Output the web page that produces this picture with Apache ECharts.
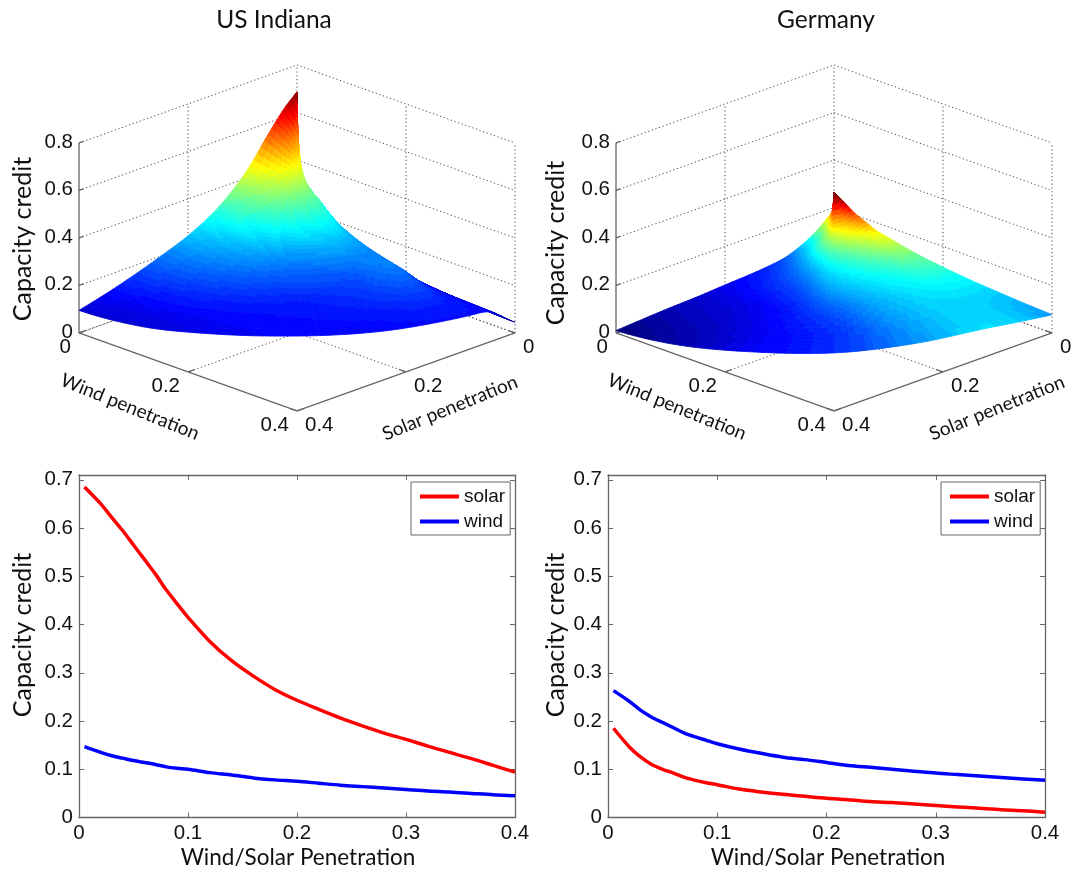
<!DOCTYPE html>
<html><head><meta charset="utf-8">
<style>html,body{margin:0;padding:0;background:#fff}#c{width:1073px;height:873px;filter:blur(0.45px)}</style>
<script src="https://cdn.jsdelivr.net/npm/echarts@6/dist/echarts.min.js"></script>
</head><body><div id="c"></div>
<script>
// ---------- 2-D line data ----------
const penetration = [0.005,0.02,0.03,0.04,0.05,0.06,0.07,0.08,0.09,0.1,0.12,0.14,0.16,0.18,0.2,0.22,0.24,0.26,0.28,0.3,0.32,0.34,0.36,0.38,0.4];
const indianaSolar = [0.685,0.65,0.622,0.595,0.565,0.535,0.505,0.472,0.443,0.415,0.365,0.325,0.293,0.265,0.243,0.224,0.206,0.19,0.175,0.162,0.148,0.135,0.122,0.108,0.094];
const indianaWind  = [0.147,0.135,0.128,0.123,0.118,0.114,0.11,0.105,0.102,0.1,0.093,0.088,0.082,0.078,0.075,0.071,0.067,0.064,0.061,0.058,0.055,0.053,0.05,0.047,0.045];
const germanySolar = [0.185,0.145,0.125,0.11,0.1,0.092,0.083,0.077,0.072,0.068,0.059,0.053,0.048,0.044,0.04,0.037,0.033,0.031,0.028,0.025,0.022,0.019,0.016,0.014,0.011];
const germanyWind  = [0.263,0.24,0.222,0.208,0.197,0.186,0.175,0.167,0.16,0.153,0.142,0.133,0.125,0.12,0.114,0.108,0.104,0.1,0.096,0.092,0.089,0.086,0.083,0.08,0.077];

// ---------- 3-D surface data: capacity credit along rays in the (wind, solar) plane ----------
const rayAngles = [0,15,30,45,60,75,82,90]; // degrees from the solar axis towards the wind axis
const rayRadii  = [0,0.02,0.04,0.06,0.08,0.1,0.15,0.2,0.25,0.3,0.35,0.4];
const indianaRay0  = [0.686,0.645,0.59,0.53,0.465,0.41,0.31,0.245,0.2,0.16,0.125,0.095];
const indianaRay15 = [0.686,0.62,0.57,0.51,0.45,0.4,0.3,0.235,0.19,0.15,0.12,0.1];
const indianaRay30 = [0.686,0.6,0.54,0.48,0.43,0.385,0.295,0.225,0.18,0.145,0.125,0.115];
const indianaRay45 = [0.686,0.56,0.49,0.446,0.4,0.36,0.28,0.21,0.17,0.14,0.13,0.123];
const indianaRay60 = [0.42,0.37,0.35,0.35,0.35,0.33,0.27,0.215,0.17,0.15,0.135,0.125];
const indianaRay75 = [0.42,0.32,0.3,0.27,0.25,0.24,0.223,0.21,0.205,0.175,0.145,0.13];
const indianaRay82 = [0.3,0.15,0.14,0.14,0.14,0.14,0.135,0.13,0.135,0.13,0.13,0.13];
const indianaRay90 = [0.3,0.14,0.125,0.115,0.105,0.1,0.085,0.075,0.065,0.058,0.05,0.045];
const germanyRay0  = [0.19,0.15,0.115,0.09,0.07,0.058,0.045,0.038,0.03,0.025,0.018,0.01];
const germanyRay15 = [0.2,0.15,0.12,0.1,0.085,0.072,0.055,0.045,0.035,0.03,0.025,0.022];
const germanyRay30 = [0.21,0.17,0.14,0.125,0.11,0.095,0.07,0.055,0.046,0.042,0.04,0.04];
const germanyRay45 = [0.265,0.21,0.175,0.15,0.133,0.118,0.096,0.08,0.065,0.056,0.052,0.052];
const germanyRay60 = [0.265,0.21,0.18,0.16,0.145,0.13,0.108,0.095,0.085,0.08,0.076,0.075];
const germanyRay75 = [0.265,0.225,0.195,0.175,0.155,0.145,0.12,0.106,0.098,0.093,0.093,0.095];
const germanyRay82 = [0.265,0.235,0.203,0.183,0.163,0.153,0.128,0.112,0.1,0.093,0.09,0.09];
const germanyRay90 = [0.265,0.235,0.205,0.185,0.165,0.155,0.13,0.113,0.1,0.091,0.083,0.077];
const indianaRays = [indianaRay0,indianaRay15,indianaRay30,indianaRay45,indianaRay60,indianaRay75,indianaRay82,indianaRay90];
const germanyRays = [germanyRay0,germanyRay15,germanyRay30,germanyRay45,germanyRay60,germanyRay75,germanyRay82,germanyRay90];
const indianaColorLimits = [0.04,0.69];
const germanyColorLimits = [0.01,0.255];

// ---------- ticks ----------
const zTicks = [0,0.2,0.4,0.6,0.8];
const planeTicks = [0,0.2,0.4];
const panelTitles = ['US Indiana','Germany'];

// ---------- view projection used for the 3-D panels ----------
const FLOOR = 0.821;
const project = (w,s,z) => [w-s, z-FLOOR*(w+s)];

const TICK_FONT = '20.5px "Liberation Sans"';
const TITLE_FONT = '"Lato"';
const GREY = '#666';
const JET_LEVELS = 64;

function jet(t){
  t = Math.max(0,Math.min(1,t));
  t = Math.min(JET_LEVELS-1,Math.floor(t*JET_LEVELS))/(JET_LEVELS-1);
  const c = v => Math.round(255*Math.max(0,Math.min(1,v)));
  return 'rgb('+c(1.5-Math.abs(4*t-3))+','+c(1.5-Math.abs(4*t-2))+','+c(1.5-Math.abs(4*t-1))+')';
}
// monotone shading of the surface between the read rays and stations
function shade(xs,ys,x){
  const n=xs.length,h=[],d=[],m=[];
  for(let i=0;i<n-1;i++){h[i]=xs[i+1]-xs[i];d[i]=(ys[i+1]-ys[i])/h[i];}
  m[0]=d[0];m[n-1]=d[n-2];
  for(let i=1;i<n-1;i++){
    if(d[i-1]*d[i]<=0)m[i]=0;
    else{const a=2*h[i]+h[i-1],b=h[i]+2*h[i-1];m[i]=(a+b)/(a/d[i-1]+b/d[i]);}
  }
  let k=0;while(k<n-2&&x>xs[k+1])k++;
  const t=(x-xs[k])/h[k],t2=t*t,t3=t2*t;
  return (2*t3-3*t2+1)*ys[k]+(t3-2*t2+t)*h[k]*m[k]+(-2*t3+3*t2)*ys[k+1]+(t3-t2)*h[k]*m[k+1];
}
function surfaceItems(rays,limits){
  const lo=limits[0],hi=limits[1];
  const rs=[],as=[];
  for(let i=0;i<rayRadii.length-1;i++){const n=Math.max(3,Math.round((rayRadii[i+1]-rayRadii[i])/0.006));for(let k=0;k<n;k++)rs.push(rayRadii[i]+(rayRadii[i+1]-rayRadii[i])*k/n);}
  rs.push(rayRadii[rayRadii.length-1]);
  for(let i=0;i<rayAngles.length-1;i++){const n=Math.max(4,Math.round((rayAngles[i+1]-rayAngles[i])/1.5));for(let k=0;k<n;k++)as.push(rayAngles[i]+(rayAngles[i+1]-rayAngles[i])*k/n);}
  as.push(rayAngles[rayAngles.length-1]);
  const mesh=as.map(a=>{
    const st=rayRadii.map((_,j)=>shade(rayAngles,rays.map(r=>r[j]),a));
    const th=a*Math.PI/180;
    return rs.map(r=>{const z=shade(rayRadii,st,r),w=r*Math.sin(th),s=r*Math.cos(th);return{p:project(w,s,z),z,d:w+s};});
  });
  const items=[];
  for(let i=0;i<as.length-1;i++)for(let j=0;j<rs.length-1;j++){
    const q=[mesh[i][j],mesh[i][j+1],mesh[i+1][j+1],mesh[i+1][j]];
    const depth=q.reduce((m,k)=>m+k.d,0)/4,z=q.reduce((m,k)=>m+k.z,0)/4;
    items.push({depth,value:[...q.flatMap(k=>k.p),(z-lo)/(hi-lo)]});
  }
  items.sort((x,y)=>x.depth-y.depth);
  return items.map(i=>i.value);
}
function renderQuad(params,api){
  const pts=[];
  for(let k=0;k<4;k++)pts.push(api.coord([api.value(k*2),api.value(k*2+1)]));
  const c=jet(api.value(8));
  return {type:'polygon',shape:{points:pts},style:{fill:c,stroke:c,lineWidth:0.8}};
}
function frameItems(){
  const seg=[];
  const add=(a,b,solid)=>{const p=project(...a),q=project(...b);seg.push([p[0],p[1],q[0],q[1],solid?1:0]);};
  const top=zTicks[zTicks.length-1], end=planeTicks[planeTicks.length-1];
  zTicks.forEach(z=>{
    add([0,end,z],[0,0,z]); add([0,0,z],[end,0,z]);
    add([0,end,z],[0,end-0.008,z],true);
  });
  planeTicks.forEach(t=>{
    if(t<end){ add([0,t,0],[0,t,top]); }
    if(t>0){ add([t,0,0],[t,0,top]); }
    if(t<end){ add([0,t,0],[end,t,0]); add([t,0,0],[t,end,0]); }
    add([t,end,0],[t,end-0.012,0],true);
    add([end,t,0],[end-0.012,t,0],true);
  });
  add([0,end,0],[0,end,top],true);
  add([0,end,0],[end,end,0],true);
  add([end,end,0],[end,0,0],true);
  return seg;
}
function renderSeg(params,api){
  const p=api.coord([api.value(0),api.value(1)]),q=api.coord([api.value(2),api.value(3)]),solid=api.value(4)===1;
  return {type:'line',shape:{x1:p[0],y1:p[1],x2:q[0],y2:q[1]},
    style:solid?{stroke:GREY,lineWidth:1.3}:{stroke:'#444',lineWidth:1,lineDash:[1.2,2.6]}};
}
function labelItems(){
  const items=[], end=planeTicks[planeTicks.length-1];
  const fmt=v=>String(v);
  zTicks.forEach(z=>{const p=project(0,end,z);items.push([p[0],p[1],fmt(z),'right',-6,-1]);});
  planeTicks.forEach(t=>{
    let p=project(t,end,0);items.push([p[0],p[1],fmt(t),'right',-8,14]);
    p=project(end,t,0);items.push([p[0],p[1],fmt(t),'left',8,14]);
  });
  return items;
}
function renderLabel(params,api){
  const p=api.coord([api.value(0),api.value(1)]);
  return {type:'text',style:{text:api.value(2),x:p[0]+api.value(4),y:p[1]+api.value(5),align:api.value(3),verticalAlign:'middle',fill:'#111',font:TICK_FONT}};
}

// ---------- layout ----------
const grids3d=[{left:79,top:65,width:436,height:346},{left:616,top:65,width:436,height:346}];
const grids2d=[{left:79,top:475,width:436,height:342.5},{left:608,top:475,width:437,height:342.5}];
const grid=[...grids3d,...grids2d];
const xAxis=[],yAxis=[],series=[];
grids3d.forEach((g,i)=>{
  xAxis.push({gridIndex:i,type:'value',min:-0.4,max:0.4,show:false});
  yAxis.push({gridIndex:i,type:'value',min:-0.657,max:0.8,show:false});
  const base={type:'custom',coordinateSystem:'cartesian2d',xAxisIndex:i,yAxisIndex:i,silent:true,animation:false,clip:false,progressive:0};
  series.push({...base,name:'frame'+i,z:1,renderItem:renderSeg,data:frameItems(),encode:{x:0,y:1}});
  series.push({...base,name:'surface'+i,z:2,renderItem:renderQuad,
    data:i===0?surfaceItems(indianaRays,indianaColorLimits):surfaceItems(germanyRays,germanyColorLimits),encode:{x:0,y:1}});
  series.push({...base,name:'labels'+i,z:3,renderItem:renderLabel,
    dimensions:[{name:'u',type:'number'},{name:'v',type:'number'},{name:'t',type:'ordinal'},{name:'a',type:'ordinal'},{name:'dx',type:'number'},{name:'dy',type:'number'}],
    data:labelItems(),encode:{x:0,y:1}});
});
const axisCommon={axisLine:{show:true,onZero:false,lineStyle:{color:GREY,width:1.3}},axisTick:{show:true,inside:true,length:5,lineStyle:{color:GREY}},splitLine:{show:false}};
[2,3].forEach(i=>{
  xAxis.push({...axisCommon,gridIndex:i,type:'value',position:'bottom',min:0,max:0.4,interval:0.1,
    axisLabel:{color:'#111',fontSize:20.5,fontFamily:'Liberation Sans',margin:5}});
  yAxis.push({...axisCommon,gridIndex:i,type:'value',position:'left',min:0,max:0.71,interval:0.1,
    axisLabel:{color:'#111',fontSize:20.5,fontFamily:'Liberation Sans',margin:6,showMaxLabel:false}});
});
[2,3].forEach(i=>{
  xAxis.push({...axisCommon,gridIndex:i,type:'value',position:'top',min:0,max:0.4,interval:0.1,axisLabel:{show:false}});
  yAxis.push({...axisCommon,gridIndex:i,type:'value',position:'right',min:0,max:0.71,interval:0.1,axisLabel:{show:false}});
});
const line=(name,color,data,i)=>({type:'line',name,xAxisIndex:i,yAxisIndex:i,showSymbol:false,symbol:'none',animation:false,silent:true,z:4,smooth:0.3,
  lineStyle:{color,width:3.5},itemStyle:{color},data:penetration.map((x,k)=>[x,data[k]])});
series.push(line('solar','#ff0000',indianaSolar,2),line('wind','#0000ff',indianaWind,2),
            line('solar','#ff0000',germanySolar,3),line('wind','#0000ff',germanyWind,3));

const legendBase={orient:'vertical',itemWidth:39,itemHeight:4,itemGap:6,padding:[5,5,4,9],borderColor:GREY,borderWidth:1,backgroundColor:'#fff',
  icon:'rect',textStyle:{fontSize:19,fontFamily:'Liberation Sans',color:'#111'},z:6,selectedMode:false,data:['solar','wind']};

const txt=(x,y,text,size,rot)=>({type:'text',x,y,rotation:(rot||0)*Math.PI/180,z:10,silent:true,
  style:{text,fontFamily:TITLE_FONT,fontSize:size,fill:'#111',align:'center',verticalAlign:'middle'}});
const graphicEls=[
  txt(274,20,panelTitles[0],24.5),txt(826,20,panelTitles[1],24.5),
  txt(23,239,'Capacity credit',25,90),txt(556,243,'Capacity credit',25,90),
  txt(130,407,'Wind penetration',19,-22),txt(450,408,'Solar penetration',19,22),
  txt(677,407,'Wind penetration',19,-22),txt(997,408,'Solar penetration',19,22),
  txt(23,635,'Capacity credit',25,90),txt(556,635,'Capacity credit',25,90),
  txt(298,858,'Wind/Solar Penetration',22.5),txt(828,858,'Wind/Solar Penetration',22.5)
];

const chart=echarts.init(document.getElementById('c'),null,{renderer:'canvas'});
chart.setOption({animation:false,backgroundColor:'#fff',grid,xAxis,yAxis,series,
  legend:[{...legendBase,left:411,top:482},{...legendBase,left:941,top:482}],
  graphic:{elements:graphicEls}});
</script></body></html>
